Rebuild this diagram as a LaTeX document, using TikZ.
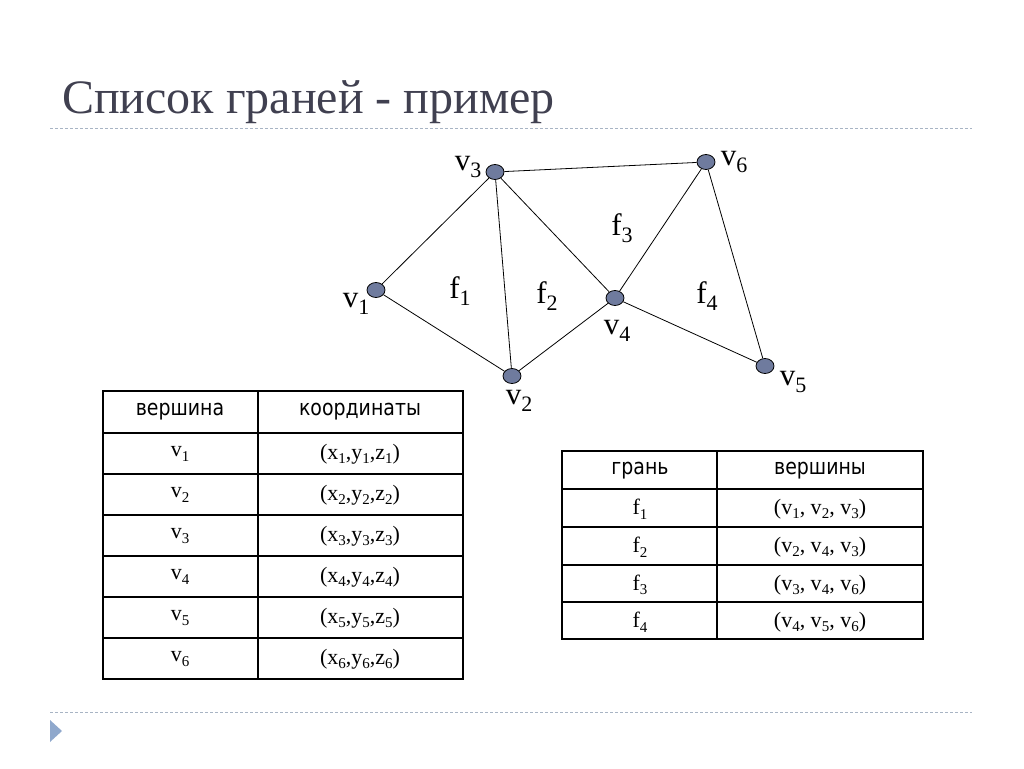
\documentclass[tikz,border=0pt]{standalone}
\usepackage{fontspec}
\setmainfont{Liberation Serif}
\newfontfamily\headfont[FakeStretch=0.86]{DejaVu Sans}
\usetikzlibrary{shapes.geometric}
\definecolor{titlegray}{HTML}{404050}
\definecolor{rulegray}{HTML}{A8B4C4}
\definecolor{vertexfill}{HTML}{6F7B9E}
\definecolor{bulletblue}{HTML}{8FA8CC}
\tikzset{
  vertex/.style={ellipse, draw=black, fill=vertexfill, line width=0.8pt, minimum width=18pt, minimum height=15pt, inner sep=0pt},
  vlabel/.style={inner sep=0pt, font=\fontsize{31}{33}\selectfont},
  headcell/.style={inner sep=0pt, font=\headfont\fontsize{22}{24}\selectfont},
  bodycell/.style={inner sep=0pt, font=\fontsize{22}{24}\selectfont},
  slideline/.style={rulegray, line width=1pt, dash pattern=on 3pt off 2pt}
}
\newcommand{\vsub}[2]{#1\raisebox{-0.5ex}{\fontsize{22}{24}\selectfont #2}}
\newcommand{\csub}[2]{#1\raisebox{-0.45ex}{\fontsize{15}{17}\selectfont #2}}
\begin{document}
\begin{tikzpicture}[x=1pt,y=-1pt]
        \useasboundingbox (0,0) rectangle (1024,768);
        % title and slide rules
        \node[anchor=base west, inner sep=0pt, text=titlegray, font=\fontsize{48}{50}\selectfont] (title) at (62,113) {Список граней - пример};
        \draw[slideline] (50,128) -- (972,128);
        \draw[slideline] (50,712) -- (972,712);
        \fill[bulletblue] (50,720) -- (62,731) -- (50,742) -- cycle;
        % mesh
        \node[vertex] (v1) at (376,290) {};
        \node[vertex] (v2) at (512,376) {};
        \node[vertex] (v3) at (495,172) {};
        \node[vertex] (v4) at (615,298) {};
        \node[vertex] (v5) at (765,366) {};
        \node[vertex] (v6) at (706,162) {};
        \foreach \a/\b in {v1/v3, v1/v2, v3/v2, v3/v4, v3/v6, v2/v4, v4/v6, v4/v5, v6/v5}
            \draw[line width=0.8pt] (\a) -- (\b);
        \node[vlabel] (lv1) at (356,304) {\vsub{v}{1}};
        \node[vlabel] (lv2) at (519,401) {\vsub{v}{2}};
        \node[vlabel] (lv3) at (468,167) {\vsub{v}{3}};
        \node[vlabel] (lv4) at (617,331) {\vsub{v}{4}};
        \node[vlabel] (lv5) at (793,382) {\vsub{v}{5}};
        \node[vlabel] (lv6) at (734,162) {\vsub{v}{6}};
        \node[vlabel] (lf1) at (460,291) {\vsub{f}{1}};
        \node[vlabel] (lf2) at (547,296) {\vsub{f}{2}};
        \node[vlabel] (lf3) at (622,228) {\vsub{f}{3}};
        \node[vlabel] (lf4) at (707,296) {\vsub{f}{4}};
        % vertex table
        \draw[line width=1.2pt] (258,391) -- (258,679);
        \foreach \y in {433,474,515,556,597,638}
            \draw[line width=1.2pt] (103,\y) -- (463,\y);
        \draw[line width=2.4pt] (103,391) rectangle (463,679);
        \node[headcell] (vhead) at (180,412) {вершина};
        \node[headcell] (chead) at (360,412) {координаты};
        \foreach \i/\y in {1/454, 2/495, 3/536, 4/577, 5/618, 6/659} {
            \node[bodycell] (vcell\i) at (180,\y) {\csub{v}{\i}};
            \node[bodycell] (ccell\i) at (360,\y) {(\csub{x}{\i},\csub{y}{\i},\csub{z}{\i})};
        }
        % face table
        \draw[line width=1.2pt] (717,451) -- (717,639);
        \foreach \y in {489,527,565,602}
            \draw[line width=1.2pt] (562,\y) -- (923,\y);
        \draw[line width=2.4pt] (562,451) rectangle (923,639);
        \node[headcell] (fhead) at (640,471) {грань};
        \node[headcell] (whead) at (820,471) {вершины};
        \foreach \i/\y/\p/\q/\r in {1/509/1/2/3, 2/547/2/4/3, 3/585/3/4/6, 4/622/4/5/6} {
            \node[bodycell] (fcell\i) at (640,\y) {\csub{f}{\i}};
            \node[bodycell] (wcell\i) at (820,\y) {(\csub{v}{\p}, \csub{v}{\q}, \csub{v}{\r})};
        }
\end{tikzpicture}
\end{document}
